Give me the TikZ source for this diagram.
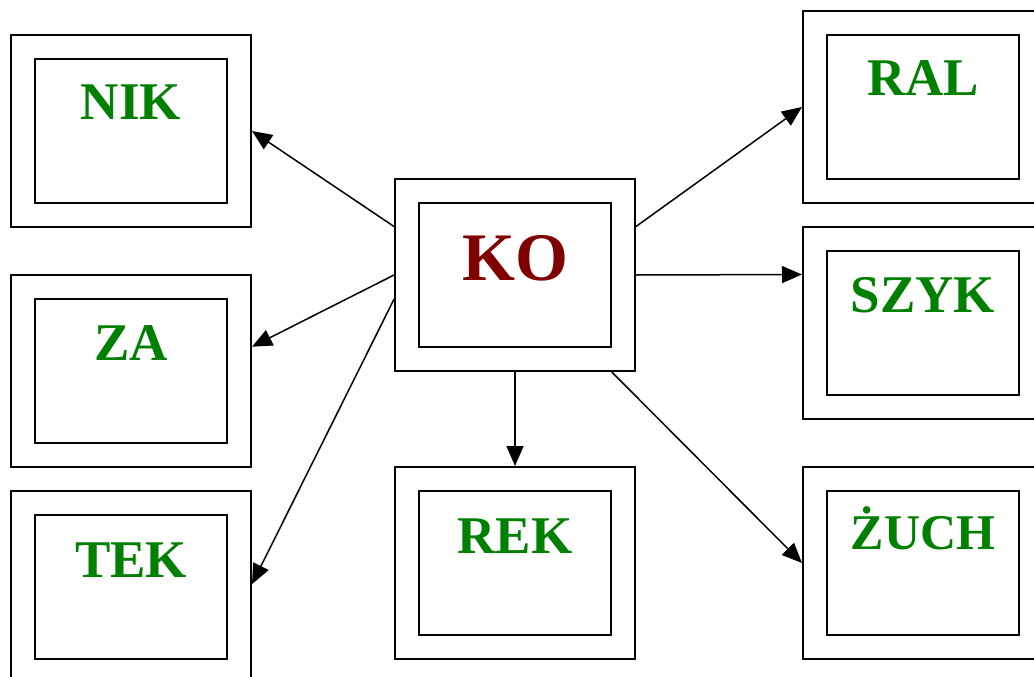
\documentclass[tikz,border=0pt]{standalone}
\usepackage{fontspec}
\setmainfont{Liberation Serif}
\usetikzlibrary{arrows.meta,calc}
\definecolor{tgreen}{HTML}{008000}
\definecolor{tred}{HTML}{800000}
\tikzset{
  outerbox/.style={draw=black, line width=2bp, minimum width=240bp, minimum height=192bp, inner sep=0pt, anchor=north west},
  innerbox/.style={draw=black, line width=2bp, minimum width=192bp, minimum height=144bp, inner sep=0pt},
  lbl/.style={anchor=base, inner sep=0pt, text=tgreen, font=\fontsize{53bp}{58bp}\selectfont\bfseries},
  lbls/.style={anchor=base, inner sep=0pt, text=tgreen, font=\fontsize{50bp}{55bp}\selectfont\bfseries},
  bigl/.style={anchor=base, inner sep=0pt, text=tred, font=\fontsize{68bp}{73bp}\selectfont\bfseries},
  conn/.style={line width=1.5bp, -{Triangle[length=20bp,width=17bp]}}
}
\begin{document}
\begin{tikzpicture}[x=1bp,y=-1bp]
\useasboundingbox (0,0) rectangle (1034,677);
\clip (0,0) rectangle (1034,677);
% left column
\node[outerbox] (nik) at (10,34) {};
\node[innerbox] (nikin) at (nik.center) {};
\node[lbl] (niktx) at ($(nikin.north)+(0,62)$) {NIK};
\node[outerbox] (za) at (10,274) {};
\node[innerbox] (zain) at (za.center) {};
\node[lbl] (zatx) at ($(zain.north)+(0,62)$) {ZA};
\node[outerbox] (tek) at (10,490) {};
\node[innerbox] (tekin) at (tek.center) {};
\node[lbl] (tektx) at ($(tekin.north)+(0,63)$) {TEK};
% middle column
\node[outerbox] (ko) at (394,178) {};
\node[innerbox] (koin) at (ko.center) {};
\node[bigl] (kotx) at ($(koin.north)+(0,78)$) {KO};
\node[outerbox] (rek) at (394,466) {};
\node[innerbox] (rekin) at (rek.center) {};
\node[lbl] (rektx) at ($(rekin.north)+(0,63)$) {REK};
% right column
\node[outerbox] (ral) at (802,10) {};
\node[innerbox] (ralin) at (ral.center) {};
\node[lbl] (raltx) at ($(ralin.north)+(0,62)$) {RAL};
\node[outerbox] (szyk) at (802,226) {};
\node[innerbox] (szykin) at (szyk.center) {};
\node[lbl] (szyktx) at ($(szykin.north)+(0,62)$) {SZYK};
\node[outerbox] (zuch) at (802,466) {};
\node[innerbox] (zuchin) at (zuch.center) {};
\node[lbls] (zuchtx) at ($(zuchin.north)+(0,59)$) {ŻUCH};
% connectors
\draw[conn] ($(ko.north west)!0.25!(ko.south west)$) -- (nik.east);
\draw[conn] (ko.west) -- ($(za.north east)!0.375!(za.south east)$);
\draw[conn] ($(ko.north west)!0.625!(ko.south west)$) -- ($(tek.north east)!0.485!(tek.south east)$);
\draw[conn] (ko.south) -- (rek.north);
\draw[conn] ($(ko.north east)!0.25!(ko.south east)$) -- (ral.west);
\draw[conn] (ko.east) -- ($(szyk.north west)!0.25!(szyk.south west)$);
\draw[conn] ($(ko.south west)!0.9!(ko.south east)$) -- ($(zuch.north west)!0.5!(zuch.south west)$);
\end{tikzpicture}
\end{document}
